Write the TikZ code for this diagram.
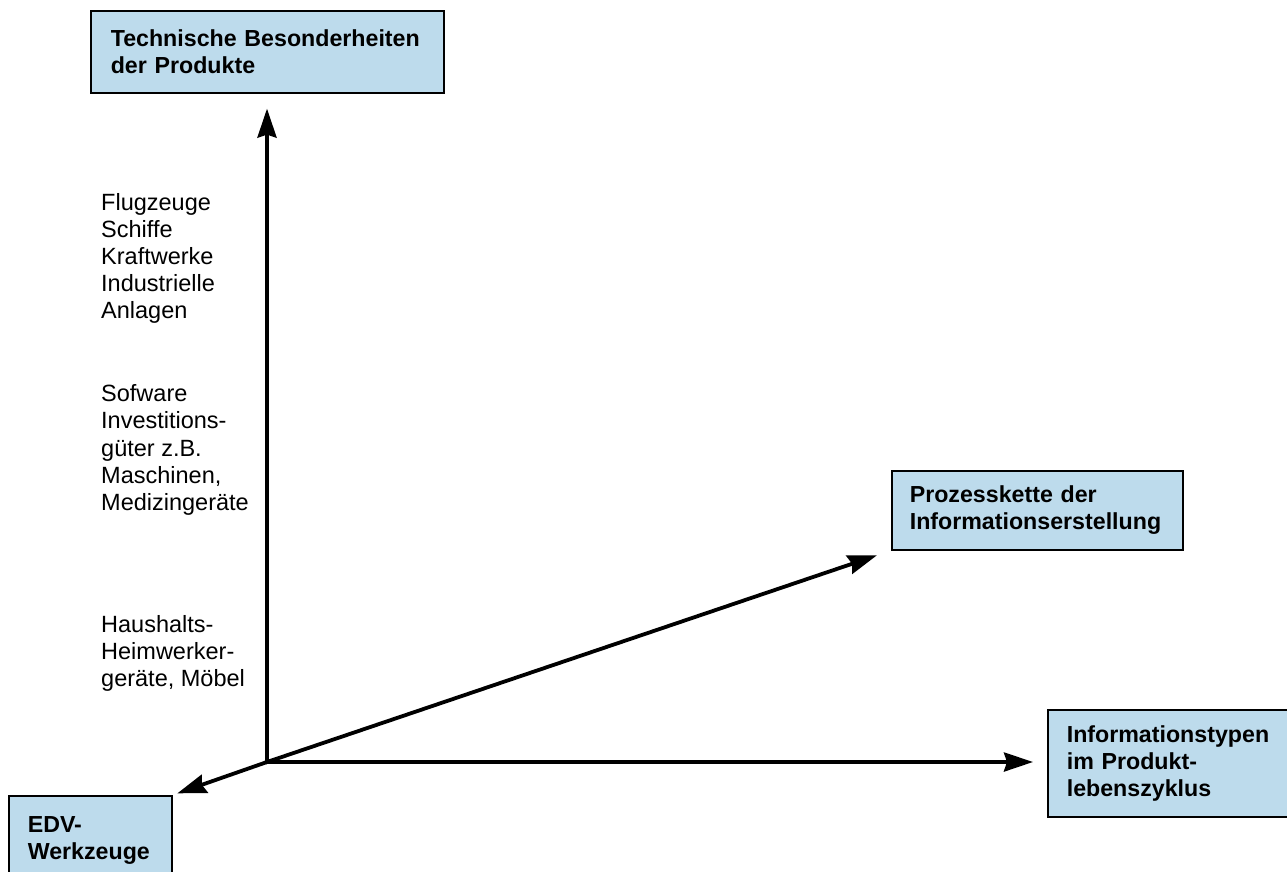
\documentclass[tikz,border=0pt]{standalone}
\usepackage{fontspec}
\setmainfont{Liberation Sans}
\usetikzlibrary{arrows.meta, positioning, calc}
\definecolor{boxblue}{RGB}{189,219,236}

\begin{document}
\begin{tikzpicture}[x=1pt, y=-1pt, >={Stealth[length=29pt,width=19pt,inset=3pt]},
    achse/.style={line width=3.8pt, line cap=rect},
    box/.style={draw, line width=1.6pt, fill=boxblue, align=left, anchor=north west,
      inner xsep=20pt, font=\fontsize{23.2}{27}\selectfont\bfseries},
    itemtext/.style={align=left, anchor=north west, inner sep=0pt,
      font=\fontsize{23.5}{27}\selectfont}]
      \useasboundingbox (0,0) rectangle (1287,871);

      \node[box, text width=313pt, minimum height=82pt] (tech) at (90,10)
      {Technische Besonderheiten\\der Produkte};
      \node[box, text width=255pt, inner xsep=18pt, minimum height=79pt] (proz) at (891,470)
      {Prozesskette der\\Informationserstellung};
      \node[box, text width=222pt, inner xsep=19pt, minimum height=107pt] (info) at (1047,709)
      {Informationstypen\\im Produkt-\\lebenszyklus};
      \node[box, text width=125pt, inner xsep=19pt, minimum height=89pt] (edv) at (8,795)
      {EDV-\\Werkzeuge};

      \node[itemtext] (gross) at (101,193) {Flugzeuge\\Schiffe\\Kraftwerke\\Industrielle\\Anlagen};
      \node[itemtext, font=\fontsize{23.5}{27.4}\selectfont] (invest) at (101,384)
      {Sofware\\Investitions-\\güter z.B.\\Maschinen,\\Medizingeräte};
      \node[itemtext] (haushalt) at (101,615) {Haushalts-\\Heimwerker-\\geräte, Möbel};

      \coordinate (o) at (267,762);
      \draw[achse] (o) edge[->, shorten >=15pt] (o |- tech.south)
      (o) edge[->, shorten >=14pt] (o -| info.west)
      (o) edge[->, shorten >=15pt] (proz.south west)
      (o) edge[->, shorten >=5pt] (edv.north east);
  \end{tikzpicture}
\end{document}
